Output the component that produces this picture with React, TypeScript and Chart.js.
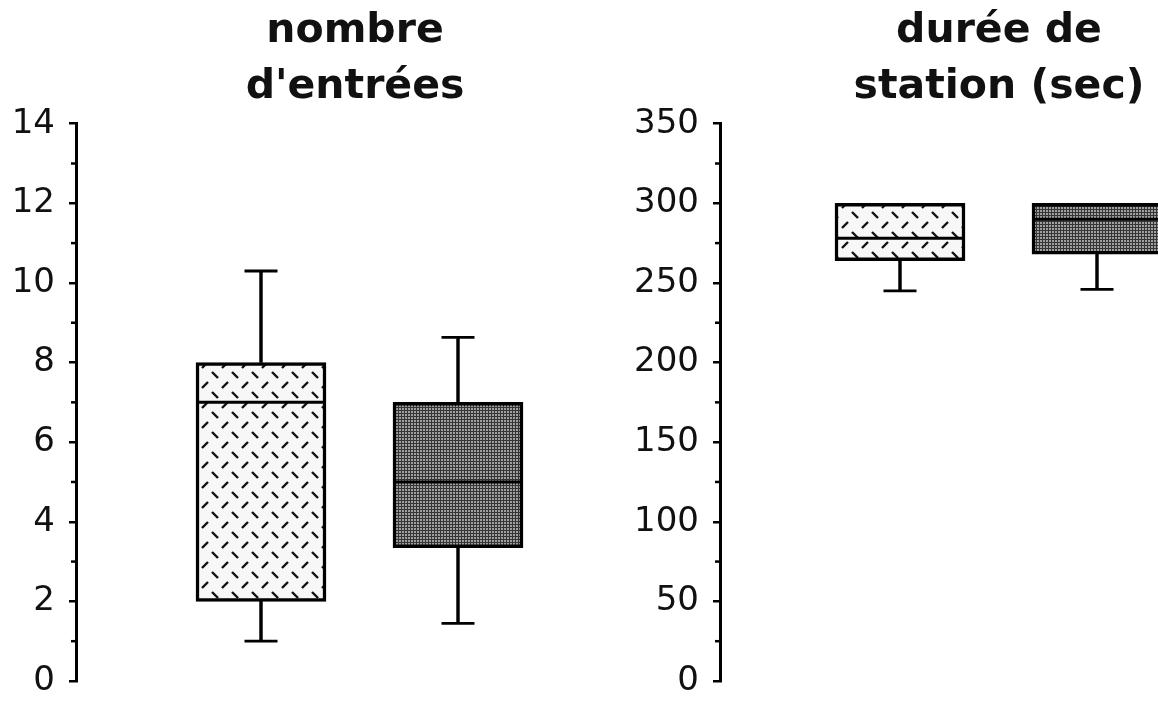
import React, { useEffect, useRef } from 'react';
import { Chart, registerables } from 'chart.js';

Chart.register(...registerables);
Chart.defaults.font.family = "'DejaVu Sans', sans-serif";

// ---- data ----
const groups = [1, 2];

const entriesMin = [1, 1.45];
const entriesQ1 = [2, 3.35];
const entriesMedian = [7, 5];
const entriesQ3 = [8, 7];
const entriesMax = [10.3, 8.63];
const entriesTicks = [0, 2, 4, 6, 8, 10, 12, 14];
const entriesMinorTicks = [1, 3, 5, 7, 9, 11, 13];
const entriesTitle = ['nombre', "d'entrées"];

const durationMin = [245, 246];
const durationQ1 = [264, 268];
const durationMedian = [278, 290];
const durationQ3 = [300, 300];
const durationMax = [300, 300];
const durationTicks = [0, 50, 100, 150, 200, 250, 300, 350];
const durationMinorTicks = [25, 75, 125, 175, 225, 275, 325];
const durationTitle = ['durée de', 'station (sec)'];

function makeDashPattern(): CanvasPattern | string {
  const c = document.createElement('canvas');
  c.width = 20;
  c.height = 20;
  const g = c.getContext('2d');
  if (!g) return '#f6f6f6';
  g.fillStyle = '#f7f7f7';
  g.fillRect(0, 0, 20, 20);
  g.strokeStyle = '#111';
  g.lineWidth = 2.4;
  g.beginPath();
  g.moveTo(2, 8);
  g.lineTo(8, 2);
  g.stroke();
  g.beginPath();
  g.moveTo(12, 12);
  g.lineTo(18, 18);
  g.stroke();
  return g.createPattern(c, 'repeat') || '#f6f6f6';
}

function makeDotPattern(): CanvasPattern | string {
  const c = document.createElement('canvas');
  c.width = 3;
  c.height = 3;
  const g = c.getContext('2d');
  if (!g) return '#646464';
  g.fillStyle = '#353535';
  g.fillRect(0, 0, 3, 3);
  g.fillStyle = '#a0a0a0';
  g.fillRect(0, 0, 2, 2);
  return g.createPattern(c, 'repeat') || '#646464';
}

const minorTickPlugin = {
  id: 'minorTicks',
  afterDraw(chart: any, _args: any, opts: any) {
    const y = chart.scales.y;
    const left = chart.chartArea.left;
    const ctx = chart.ctx;
    ctx.save();
    ctx.strokeStyle = '#000';
    ctx.lineWidth = 2.5;
    for (const v of opts.values || []) {
      const py = y.getPixelForValue(v);
      ctx.beginPath();
      ctx.moveTo(left - 5, py);
      ctx.lineTo(left, py);
      ctx.stroke();
    }
    ctx.restore();
  },
};

interface PanelSpec {
  title: string[];
  min: number[];
  q1: number[];
  median: number[];
  q3: number[];
  max: number[];
  ticks: number[];
  minor: number[];
  yMax: number;
  axisWidth: number;
  xMin: number;
  xMax: number;
}

function buildConfig(p: PanelSpec): any {
  const fills = [makeDashPattern(), makeDotPattern()];
  const boxes = groups.map((g, i) => ({ x: g, y: [p.q1[i], p.q3[i]] }));
  const upper: { x: number; y: number[] }[] = [];
  const lower: { x: number; y: number[] }[] = [];
  const caps: { x: number; y: number }[] = [];
  groups.forEach((g, i) => {
    if (p.min[i] < p.q1[i]) {
      lower.push({ x: g, y: [p.min[i], p.q1[i]] });
      caps.push({ x: g, y: p.min[i] });
    }
    if (p.max[i] > p.q3[i]) {
      upper.push({ x: g, y: [p.q3[i], p.max[i]] });
      caps.push({ x: g, y: p.max[i] });
    }
  });
  const medians = groups.map((g, i) => ({ x: g, y: p.median[i] }));

  return {
    type: 'bar',
    data: {
      datasets: [
        {
          type: 'line',
          data: medians,
          showLine: false,
          pointStyle: 'line',
          pointRadius: 63,
          pointHoverRadius: 63,
          pointBorderWidth: 3,
          pointBorderColor: '#000',
          order: 0,
        },
        {
          type: 'line',
          data: caps,
          showLine: false,
          pointStyle: 'line',
          pointRadius: 16.5,
          pointHoverRadius: 16.5,
          pointBorderWidth: 2.8,
          pointBorderColor: '#000',
          order: 0,
        },
        {
          type: 'bar',
          data: boxes,
          backgroundColor: fills,
          borderColor: '#000',
          borderWidth: 3.5,
          borderSkipped: false,
          barThickness: 130,
          grouped: false,
          order: 1,
        },
        {
          type: 'bar',
          data: upper,
          backgroundColor: '#000',
          borderWidth: 0,
          barThickness: 2.8,
          grouped: false,
          order: 2,
        },
        {
          type: 'bar',
          data: lower,
          backgroundColor: '#000',
          borderWidth: 0,
          barThickness: 2.8,
          grouped: false,
          order: 2,
        },
      ],
    },
    options: {
      responsive: false,
      animation: false,
      devicePixelRatio: 1,
      events: [],
      layout: { autoPadding: false, padding: { left: 0, right: 0, top: 0, bottom: 21 } },
      plugins: {
        legend: { display: false },
        tooltip: { enabled: false },
        title: {
          display: true,
          text: p.title,
          color: '#111',
          font: { size: 41, weight: 'bold', lineHeight: 1.35 },
          padding: { top: 4, bottom: 9 },
        },
        minorTicks: { values: p.minor },
      },
      scales: {
        x: {
          type: 'linear',
          display: false,
          offset: false,
          min: p.xMin,
          max: p.xMax,
        },
        y: {
          type: 'linear',
          min: 0,
          max: p.yMax,
          afterBuildTicks: (s: any) => {
            s.ticks = p.ticks.map((v) => ({ value: v }));
          },
          afterFit: (s: any) => {
            s.width = p.axisWidth;
            s.paddingTop = 0;
            s.paddingBottom = 0;
          },
          ticks: {
            color: '#111',
            padding: 14,
            font: { size: 34 },
          },
          grid: {
            display: true,
            drawOnChartArea: false,
            drawTicks: true,
            tickLength: 7,
            color: '#000',
            lineWidth: 2.5,
          },
          border: { display: true, color: '#000', width: 3 },
        },
      },
    },
    plugins: [minorTickPlugin],
  };
}

const leftSpec: PanelSpec = {
  title: entriesTitle,
  min: entriesMin,
  q1: entriesQ1,
  median: entriesMedian,
  q3: entriesQ3,
  max: entriesMax,
  ticks: entriesTicks,
  minor: entriesMinorTicks,
  yMax: 14,
  axisWidth: 76,
  xMin: 0.0609,
  xMax: 3.2792,
};

const rightSpec: PanelSpec = {
  title: durationTitle,
  min: durationMin,
  q1: durationQ1,
  median: durationMedian,
  q3: durationQ3,
  max: durationMax,
  ticks: durationTicks,
  minor: durationMinorTicks,
  yMax: 350,
  axisWidth: 100,
  xMin: 0.0863,
  xMax: 3.4264,
};

function Panel({ spec, left, width }: { spec: PanelSpec; left: number; width: number }) {
  const ref = useRef<HTMLCanvasElement>(null);
  useEffect(() => {
    if (!ref.current) return;
    const chart = new Chart(ref.current, buildConfig(spec));
    return () => chart.destroy();
  }, [spec]);
  return (
    <canvas
      ref={ref}
      width={width}
      height={702}
      style={{ position: 'absolute', left, top: 0, width, height: 702 }}
    />
  );
}

export default function App() {
  return (
    <div
      style={{
        position: 'absolute',
        left: 0,
        top: 0,
        width: 1158,
        height: 702,
        overflow: 'hidden',
        background: '#fff',
      }}
    >
      <Panel spec={leftSpec} left={0} width={710} />
      <Panel spec={rightSpec} left={620} width={758} />
    </div>
  );
}
